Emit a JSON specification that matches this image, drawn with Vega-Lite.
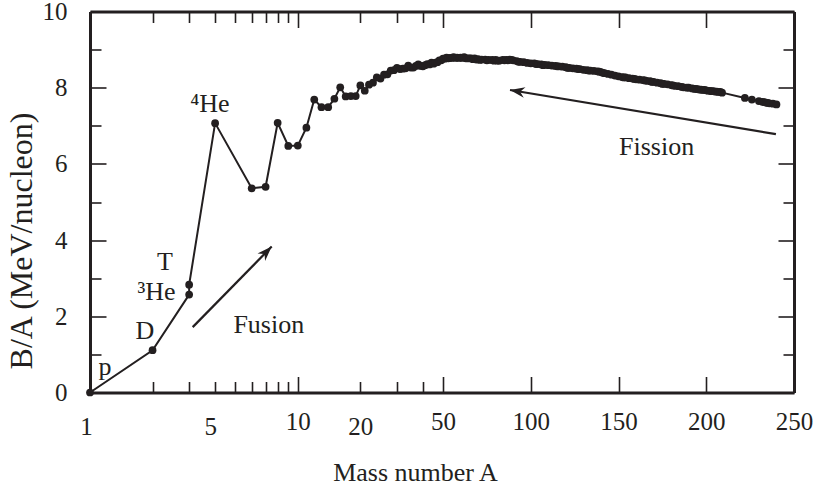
{
  "$schema": "https://vega.github.io/schema/vega-lite/v6.json",
  "width": 704,
  "height": 381,
  "autosize": {"type": "none"},
  "padding": {"left": 90, "top": 11.5, "right": 21, "bottom": 96.5},
  "background": "white",
  "config": {"view": {"stroke": null}, "font": "Liberation Serif"},
  "datasets": {
    "curve": [
      {"A": 1, "BA": 0}, {"A": 2, "BA": 1.11}, {"A": 3, "BA": 2.57}, {"A": 3, "BA": 2.83},
      {"A": 4, "BA": 7.07}, {"A": 6, "BA": 5.36}, {"A": 7, "BA": 5.40}, {"A": 8, "BA": 7.08},
      {"A": 9, "BA": 6.47}, {"A": 10, "BA": 6.48}, {"A": 11, "BA": 6.95}, {"A": 12, "BA": 7.69},
      {"A": 13, "BA": 7.49}, {"A": 14, "BA": 7.49}, {"A": 15, "BA": 7.71}, {"A": 16, "BA": 8.01},
      {"A": 17, "BA": 7.77}, {"A": 18, "BA": 7.78}, {"A": 19, "BA": 7.78}, {"A": 20, "BA": 8.06},
      {"A": 21, "BA": 7.92}, {"A": 22, "BA": 8.08}, {"A": 23, "BA": 8.13}, {"A": 24, "BA": 8.27},
      {"A": 25, "BA": 8.24}, {"A": 26, "BA": 8.34}, {"A": 27, "BA": 8.35}, {"A": 28, "BA": 8.45},
      {"A": 29, "BA": 8.46}, {"A": 30, "BA": 8.52}, {"A": 31, "BA": 8.49}, {"A": 32, "BA": 8.50},
      {"A": 33, "BA": 8.51}, {"A": 34, "BA": 8.58}, {"A": 35, "BA": 8.53}, {"A": 36, "BA": 8.53},
      {"A": 37, "BA": 8.57}, {"A": 38, "BA": 8.61}, {"A": 39, "BA": 8.57}, {"A": 40, "BA": 8.56},
      {"A": 41, "BA": 8.59}, {"A": 42, "BA": 8.62}, {"A": 43, "BA": 8.61}, {"A": 44, "BA": 8.66},
      {"A": 45, "BA": 8.63}, {"A": 46, "BA": 8.66}, {"A": 47, "BA": 8.67}, {"A": 48, "BA": 8.72},
      {"A": 49, "BA": 8.72}, {"A": 50, "BA": 8.76}, {"A": 51, "BA": 8.76}, {"A": 52, "BA": 8.79},
      {"A": 53, "BA": 8.77}, {"A": 54, "BA": 8.78}, {"A": 55, "BA": 8.78}, {"A": 56, "BA": 8.80},
      {"A": 57, "BA": 8.78}, {"A": 58, "BA": 8.79}, {"A": 59, "BA": 8.78}, {"A": 60, "BA": 8.79},
      {"A": 61, "BA": 8.78}, {"A": 62, "BA": 8.80}, {"A": 63, "BA": 8.77}, {"A": 64, "BA": 8.77},
      {"A": 65, "BA": 8.77}, {"A": 66, "BA": 8.77}, {"A": 67, "BA": 8.75}, {"A": 68, "BA": 8.77},
      {"A": 69, "BA": 8.74}, {"A": 70, "BA": 8.75}, {"A": 71, "BA": 8.73}, {"A": 72, "BA": 8.74},
      {"A": 74, "BA": 8.74}, {"A": 75, "BA": 8.72}, {"A": 76, "BA": 8.73}, {"A": 78, "BA": 8.73},
      {"A": 79, "BA": 8.71}, {"A": 80, "BA": 8.73}, {"A": 81, "BA": 8.71}, {"A": 82, "BA": 8.71},
      {"A": 84, "BA": 8.73}, {"A": 85, "BA": 8.72}, {"A": 86, "BA": 8.73}, {"A": 87, "BA": 8.72},
      {"A": 88, "BA": 8.74}, {"A": 89, "BA": 8.73}, {"A": 90, "BA": 8.72}, {"A": 92, "BA": 8.70},
      {"A": 93, "BA": 8.68}, {"A": 94, "BA": 8.68}, {"A": 96, "BA": 8.67}, {"A": 98, "BA": 8.65},
      {"A": 100, "BA": 8.64}, {"A": 102, "BA": 8.64}, {"A": 103, "BA": 8.62}, {"A": 104, "BA": 8.62},
      {"A": 106, "BA": 8.61}, {"A": 107, "BA": 8.59}, {"A": 108, "BA": 8.60}, {"A": 110, "BA": 8.59},
      {"A": 112, "BA": 8.58}, {"A": 114, "BA": 8.57}, {"A": 115, "BA": 8.56}, {"A": 116, "BA": 8.56},
      {"A": 118, "BA": 8.55}, {"A": 120, "BA": 8.54}, {"A": 121, "BA": 8.52}, {"A": 122, "BA": 8.52},
      {"A": 124, "BA": 8.51}, {"A": 126, "BA": 8.50}, {"A": 127, "BA": 8.49}, {"A": 128, "BA": 8.49},
      {"A": 130, "BA": 8.47}, {"A": 132, "BA": 8.46}, {"A": 133, "BA": 8.45}, {"A": 134, "BA": 8.45},
      {"A": 136, "BA": 8.44}, {"A": 138, "BA": 8.43}, {"A": 139, "BA": 8.42}, {"A": 140, "BA": 8.41},
      {"A": 141, "BA": 8.39}, {"A": 142, "BA": 8.38}, {"A": 144, "BA": 8.36}, {"A": 146, "BA": 8.34},
      {"A": 148, "BA": 8.32}, {"A": 150, "BA": 8.30}, {"A": 152, "BA": 8.28}, {"A": 153, "BA": 8.27},
      {"A": 154, "BA": 8.27}, {"A": 156, "BA": 8.25}, {"A": 158, "BA": 8.24}, {"A": 159, "BA": 8.23},
      {"A": 160, "BA": 8.22}, {"A": 162, "BA": 8.21}, {"A": 164, "BA": 8.20}, {"A": 165, "BA": 8.19},
      {"A": 166, "BA": 8.18}, {"A": 168, "BA": 8.17}, {"A": 169, "BA": 8.15}, {"A": 170, "BA": 8.15},
      {"A": 172, "BA": 8.13}, {"A": 174, "BA": 8.12}, {"A": 175, "BA": 8.10}, {"A": 176, "BA": 8.10},
      {"A": 178, "BA": 8.09}, {"A": 180, "BA": 8.07}, {"A": 181, "BA": 8.06}, {"A": 182, "BA": 8.05},
      {"A": 184, "BA": 8.04}, {"A": 186, "BA": 8.02}, {"A": 187, "BA": 8.01}, {"A": 189, "BA": 8.00},
      {"A": 190, "BA": 8.00}, {"A": 192, "BA": 7.98}, {"A": 193, "BA": 7.97}, {"A": 194, "BA": 7.97},
      {"A": 195, "BA": 7.96}, {"A": 196, "BA": 7.95}, {"A": 197, "BA": 7.95}, {"A": 198, "BA": 7.94},
      {"A": 199, "BA": 7.94}, {"A": 200, "BA": 7.93}, {"A": 201, "BA": 7.92}, {"A": 202, "BA": 7.92},
      {"A": 203, "BA": 7.91}, {"A": 204, "BA": 7.91}, {"A": 205, "BA": 7.90}, {"A": 206, "BA": 7.90},
      {"A": 207, "BA": 7.89}, {"A": 208, "BA": 7.89}, {"A": 209, "BA": 7.87}, {"A": 222, "BA": 7.73},
      {"A": 226, "BA": 7.69}, {"A": 230, "BA": 7.65}, {"A": 232, "BA": 7.63}, {"A": 233, "BA": 7.62},
      {"A": 234, "BA": 7.61}, {"A": 235, "BA": 7.60}, {"A": 236, "BA": 7.59}, {"A": 238, "BA": 7.58},
      {"A": 240, "BA": 7.56}
    ],
    "arrows": [
      {"name": "Fusion", "A": 3.137, "BA": 1.716, "A2": 7.505, "BA2": 3.83},
      {"name": "Fission", "A": 239.7, "BA": 6.78, "A2": 88.15, "BA2": 7.94}
    ],
    "labels": [
      {"label": "p", "A": 1.24, "BA": 0.46},
      {"label": "D", "A": 1.879, "BA": 1.40},
      {"label": "³He", "A": 2.108, "BA": 2.43},
      {"label": "T", "A": 2.34, "BA": 3.22},
      {"label": "⁴He", "A": 3.80, "BA": 7.37},
      {"label": "Fusion", "A": 7.265, "BA": 1.56},
      {"label": "Fission", "A": 171.7, "BA": 6.24}
    ]
  },
  "resolve": {"axis": {"x": "independent", "y": "independent"}},
  "layer": [
    {
      "data": {"name": "curve"},
      "mark": {"type": "line", "color": "#231f20", "strokeWidth": 2,
        "point": {"filled": true, "size": 60, "color": "#231f20", "opacity": 1}},
      "encoding": {
        "x": {
          "field": "A", "type": "quantitative",
          "scale": {
            "domain": [1,2,3,4,5,6,7,8,9,10,11,12,13,14,15,16,17,18,19,20,21,22,23,24,25,26,27,28,29,30,31,32,33,34,35,36,37,38,39,40,41,42,43,44,45,46,47,48,49,50,250],
            "range": [0,62.55,99.15,125.11,145.25,161.70,175.61,187.66,198.29,207.80,216.40,224.25,231.48,238.17,244.39,250.22,255.69,260.85,265.72,270.35,274.76,278.96,282.97,286.81,290.49,294.03,297.44,300.72,303.89,306.95,309.91,312.77,315.55,318.24,320.86,323.40,325.87,328.28,330.62,332.91,335.14,337.31,339.44,341.51,343.54,345.52,347.46,349.36,351.22,353.05,704],
            "nice": false, "zero": false
          },
          "axis": {
            "orient": "bottom",
            "values": [1,2,3,4,5,6,7,8,9,10,20,30,40,50,100,150,200,250],
            "labelExpr": "indexof([1,5,10,20,50,100,150,200,250], datum.value) >= 0 ? datum.label : ''",
            "format": "d",
            "tickSize": {"condition": {"test": "indexof([10,50,100,150,200,250], datum.value) >= 0", "value": -16}, "value": -11},
            "labelOffset": {"condition": [{"test": "datum.value == 5", "value": -25}, {"test": "datum.value == 1", "value": -4}], "value": 0},
            "tickColor": "#231f20", "tickWidth": 1.6,
            "domainColor": "#231f20", "domainWidth": 3,
            "labelFont": "Liberation Serif", "labelFontSize": 25, "labelColor": "#231f20",
            "labelBaseline": "alphabetic", "labelPadding": 53,
            "labelFlush": false, "labelOverlap": false, "labelBound": false,
            "grid": false,
            "title": "Mass number A", "titleFont": "Liberation Serif", "titleFontSize": 26,
            "titleFontWeight": "normal", "titleColor": "#231f20",
            "titleX": 325, "titleY": 88, "titleBaseline": "alphabetic", "titleAlign": "center"
          }
        },
        "y": {
          "field": "BA", "type": "quantitative",
          "scale": {"domain": [0, 10], "nice": false, "zero": false},
          "axis": {
            "orient": "left",
            "values": [0,1,2,3,4,5,6,7,8,9,10],
            "labelExpr": "datum.value % 2 == 0 ? datum.label : ''",
            "tickSize": {"condition": {"test": "datum.value % 2 == 0", "value": -16}, "value": -11},
            "tickColor": "#231f20", "tickWidth": 1.6,
            "domainColor": "#231f20", "domainWidth": 3,
            "labelFont": "Liberation Serif", "labelFontSize": 25, "labelColor": "#231f20",
            "labelPadding": 39, "labelOverlap": false, "labelFlush": false, "labelBound": false,
            "grid": false,
            "title": "B/A (MeV/nucleon)", "titleFont": "Liberation Serif", "titleFontSize": 32,
            "titleFontWeight": "normal", "titleColor": "#231f20",
            "titleX": -59, "titleY": 229, "titleBaseline": "alphabetic", "titleAlign": "center", "titleAngle": -90
          }
        }
      }
    },
    {
      "data": {"name": "arrows"},
      "mark": {"type": "rule", "color": "#231f20", "strokeWidth": 2.2},
      "encoding": {
        "x": {
          "field": "A", "type": "quantitative",
          "axis": {
            "orient": "top",
            "values": [1,2,3,4,5,6,7,8,9,10,20,30,40,50,100,150,200,250],
            "labels": false,
            "tickSize": {"condition": {"test": "indexof([10,50,100,150,200,250], datum.value) >= 0", "value": -16}, "value": -11},
            "tickColor": "#231f20", "tickWidth": 1.6,
            "domainColor": "#231f20", "domainWidth": 3,
            "grid": false, "title": null
          }
        },
        "y": {
          "field": "BA", "type": "quantitative",
          "axis": {
            "orient": "right",
            "values": [0,1,2,3,4,5,6,7,8,9,10],
            "labels": false,
            "tickSize": {"condition": {"test": "datum.value % 2 == 0", "value": -16}, "value": -11},
            "tickColor": "#231f20", "tickWidth": 1.6,
            "domainColor": "#231f20", "domainWidth": 3,
            "grid": false, "title": null
          }
        },
        "x2": {"field": "A2"},
        "y2": {"field": "BA2"}
      }
    },
    {
      "data": {"name": "arrows"},
      "transform": [{"filter": "datum.name == 'Fusion'"}],
      "mark": {"type": "point", "shape": "M0,0L0.75,2.1L0,1.45L-0.75,2.1Z", "filled": true, "size": 200,
        "angle": 44.4, "color": "#231f20", "opacity": 1, "strokeWidth": 0},
      "encoding": {
        "x": {"field": "A2", "type": "quantitative", "axis": null},
        "y": {"field": "BA2", "type": "quantitative", "axis": null}
      }
    },
    {
      "data": {"name": "arrows"},
      "transform": [{"filter": "datum.name == 'Fission'"}],
      "mark": {"type": "point", "shape": "M0,0L0.75,2.1L0,1.45L-0.75,2.1Z", "filled": true, "size": 200,
        "angle": 279.5, "color": "#231f20", "opacity": 1, "strokeWidth": 0},
      "encoding": {
        "x": {"field": "A2", "type": "quantitative", "axis": null},
        "y": {"field": "BA2", "type": "quantitative", "axis": null}
      }
    },
    {
      "data": {"name": "labels"},
      "mark": {"type": "text", "font": "Liberation Serif", "fontSize": 26, "baseline": "alphabetic",
        "align": "center", "color": "#231f20"},
      "encoding": {
        "x": {"field": "A", "type": "quantitative", "axis": null},
        "y": {"field": "BA", "type": "quantitative", "axis": null},
        "text": {"field": "label"}
      }
    }
  ]
}
